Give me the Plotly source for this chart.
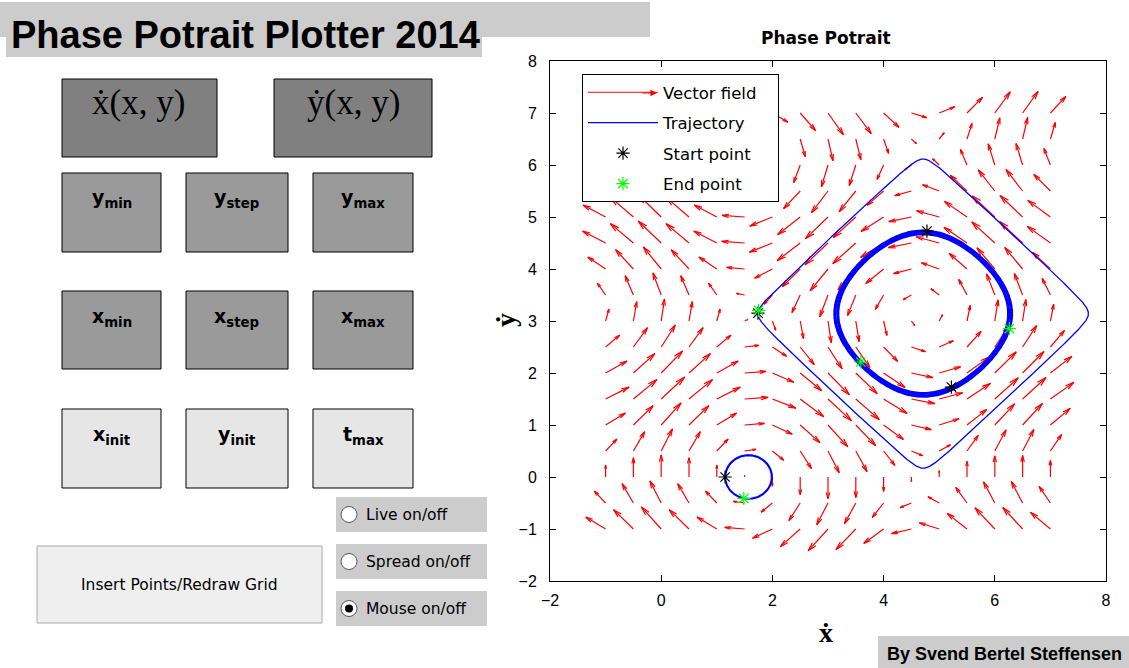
import numpy as np
import plotly.graph_objects as go

# ---------------- phase system entered in the GUI ----------------
XDOT_TEXT = "sin(y)"
YDOT_TEXT = "cos(x)"


def xdot(x, y):
    return np.sin(y)


def ydot(x, y):
    return np.cos(x)


# vector-field grid settings
x_min, x_step, x_max = -1.0, 0.5, 7.0
y_min, y_step, y_max = -1.0, 0.5, 7.0

# initial points and the integration time used for each inserted point
x_init = [1.15, 1.74, 4.78, 5.22]
y_init = [0.00, 3.15, 4.73, 1.73]
t_end = [24.3, 25.0, 23.7, 23.85]
traj_width = [2.0, 1.3, 3.0, 3.0]

# axis ticks
x_ticks = [-2, 0, 2, 4, 6, 8]
y_ticks = [-2, -1, 0, 1, 2, 3, 4, 5, 6, 7, 8]

# ---------------- figure geometry (pixels) ----------------
FIG_W, FIG_H = 1129, 668
PL, PR, PT, PB = 550, 1106, 61, 581


def px(x):
    return (x - PL) / (PR - PL)


def py(y):
    return (PB - y) / (PB - PT)


# ---------------- quiver arrows ----------------
gx = np.arange(x_min, x_max + x_step / 2, x_step)
gy = np.arange(y_min, y_max + y_step / 2, y_step)
GX, GY = np.meshgrid(gx, gy)
U = xdot(GX, GY)
V = ydot(GX, GY)
n_side = np.sqrt(GX.size)
delx = (GX.max() - GX.min()) / n_side
dely = (GY.max() - GY.min()) / n_side
maxlen = np.sqrt((U ** 2 + V ** 2) / (delx ** 2 + dely ** 2)).max()
scale = 0.9 / maxlen
U = U * scale
V = V * scale

alpha, beta = 0.30, 0.25
qx, qy = [], []
for x0, y0, u, v in zip(GX.ravel(), GY.ravel(), U.ravel(), V.ravel()):
    qx += [x0, x0 + u, None]
    qy += [y0, y0 + v, None]
    qx += [x0 + u - alpha * (u + beta * v), x0 + u, x0 + u - alpha * (u - beta * v), None]
    qy += [y0 + v - alpha * (v - beta * u), y0 + v, y0 + v - alpha * (v + beta * u), None]


# ---------------- trajectories (RK4) ----------------
def integrate(x0, y0, t_stop, dt=0.005):
    steps = int(round(t_stop / dt))
    out = np.empty((steps + 1, 2))
    p = np.array([x0, y0], dtype=float)
    out[0] = p

    def f(q):
        return np.array([xdot(q[0], q[1]), ydot(q[0], q[1])])

    for i in range(steps):
        k1 = f(p)
        k2 = f(p + dt / 2 * k1)
        k3 = f(p + dt / 2 * k2)
        k4 = f(p + dt * k3)
        p = p + dt / 6 * (k1 + 2 * k2 + 2 * k3 + k4)
        out[i + 1] = p
    return out


paths = [integrate(a, b, t) for a, b, t in zip(x_init, y_init, t_end)]

fig = go.Figure()

fig.add_trace(go.Scatter(
    x=qx, y=qy, mode="lines", name="Vector field\u00a0\u00a0\u00a0",
    line=dict(color="#ff0000", width=1.2), legendgroup="g1",
    hoverinfo="skip"))

order = [1, 0, 2, 3]
for k, i in enumerate(order):
    pth = paths[i]
    fig.add_trace(go.Scatter(
        x=pth[:, 0], y=pth[:, 1], mode="lines", name="Trajectory",
        line=dict(color="#0000ff", width=traj_width[i]), legendgroup="g2",
        showlegend=(k == 0)))

fig.add_trace(go.Scatter(
    x=x_init, y=y_init, mode="markers", name="Start point",
    marker=dict(symbol="asterisk-open", size=11, color="black",
                line=dict(color="black", width=1.2)),
    legendgroup="g3"))

fig.add_trace(go.Scatter(
    x=[p[-1, 0] for p in paths], y=[p[-1, 1] for p in paths],
    mode="markers", name="End point",
    marker=dict(symbol="asterisk-open", size=11, color="#00ff00",
                line=dict(color="#00ff00", width=1.2)),
    legendgroup="g4"))

# ---------------- GUI panel (shapes) ----------------
shapes = []
annotations = []

SANS = "Liberation Sans, Arial, sans-serif"
WIDE = "DejaVu Sans, Verdana, sans-serif"
SERIF = "Liberation Serif, DejaVu Serif, serif"


def rect(x0, y0, x1, y1, fill, line="black", lw=1):
    shapes.append(dict(type="rect", xref="paper", yref="paper",
                       x0=px(x0), x1=px(x1), y0=py(y1), y1=py(y0),
                       fillcolor=fill, line=dict(color=line, width=lw),
                       layer="below"))


def text(x, y, s, size, family=SANS, color="black", xanchor="center", angle=0):
    annotations.append(dict(x=px(x), y=py(y), xref="paper", yref="paper",
                            text=s, showarrow=False, xanchor=xanchor,
                            yanchor="middle", textangle=angle,
                            font=dict(size=size, family=family, color=color)))


# title banner
rect(0, 2, 650, 37, "#cccccc", line="#cccccc", lw=0)
rect(6, 16, 482, 57, "#cccccc", line="#cccccc", lw=0)
text(9, 35, "<b>Phase Potrait Plotter 2014</b>", 38, xanchor="left")

# equation boxes
rect(62, 79, 217, 157, "#808080")
rect(274, 79, 432, 157, "#808080")
text(138, 102, "\u1e8b(x, y)", 35, family=SERIF)
text(353, 102, "\u1e8f(x, y)", 35, family=SERIF)

# grid boxes
box_cols = [(62, 161), (186, 288), (313, 413)]
rows = [
    (173, 252, "#9a9a9a", ["y<sub>min</sub>", "y<sub>step</sub>", "y<sub>max</sub>"]),
    (291, 369, "#9a9a9a", ["x<sub>min</sub>", "x<sub>step</sub>", "x<sub>max</sub>"]),
    (409, 488, "#e6e6e6", ["x<sub>init</sub>", "y<sub>init</sub>", "t<sub>max</sub>"]),
]
for top, bot, col, labels in rows:
    for (l, r), lab in zip(box_cols, labels):
        rect(l, top, r, bot, col)
        text((l + r) / 2, top + 26, "<b>" + lab + "</b>", 19, family=WIDE)

# insert button
rect(37, 546, 322, 623, "#efefef", line="#aaaaaa")
text(179, 585, "Insert Points/Redraw Grid", 15.5, family=WIDE)

# radio toggles
radio = [(497, 532, "Live on/off", False),
         (544, 579, "Spread on/off", False),
         (591, 626, "Mouse on/off", True)]
for top, bot, lab, on in radio:
    rect(336, top, 487, bot, "#cccccc", line="#cccccc", lw=0)
    cy = (top + bot) / 2
    shapes.append(dict(type="circle", xref="paper", yref="paper",
                       x0=px(341), x1=px(357), y0=py(cy + 8), y1=py(cy - 8),
                       fillcolor="white", line=dict(color="#555555", width=1)))
    if on:
        shapes.append(dict(type="circle", xref="paper", yref="paper",
                           x0=px(345), x1=px(353), y0=py(cy + 4), y1=py(cy - 4),
                           fillcolor="black", line=dict(color="black", width=0)))
    text(364, cy, lab, 15.5, family=WIDE, xanchor="left")

# author tag
rect(878, 636, 1129, 668, "#cccccc", line="#cccccc", lw=0)
text(1004, 654, "<b>By Svend Bertel Steffensen</b>", 18)

# axes labels and title
text(826, 38, "<b>Phase Potrait</b>", 17, family=WIDE)
text(826, 632, "<b>\u1e8b</b>", 28, family=SERIF)
text(505, 320, "<b>\u1e8f</b>", 28, family=SERIF, angle=-90)

# arrow tip on the legend's vector-field sample
annotations.append(dict(x=px(657), y=py(93), xref="paper", yref="paper",
                        ax=-16, ay=0, showarrow=True, arrowhead=2,
                        arrowsize=1.1, arrowwidth=1.2, arrowcolor="#ff0000",
                        text=""))

tick_font = dict(family=SANS, size=16, color="black")

axis_common = dict(showline=True, linecolor="black", linewidth=1, mirror="ticks",
                   ticks="inside", ticklen=6, tickcolor="black", tickwidth=1,
                   showgrid=False, zeroline=False, tickfont=tick_font)

fig.update_layout(
    width=FIG_W, height=FIG_H,
    margin=dict(l=PL, r=FIG_W - PR, t=PT, b=FIG_H - PB, pad=0),
    paper_bgcolor="white", plot_bgcolor="white",
    xaxis=dict(range=[-2, 8], tickvals=x_ticks, ticklabelstandoff=5, **axis_common),
    yaxis=dict(range=[-2, 8], tickvals=y_ticks, ticklabelstandoff=9, **axis_common),
    shapes=shapes, annotations=annotations,
    legend=dict(x=px(582), y=py(74), xanchor="left", yanchor="top",
                bgcolor="white", bordercolor="black", borderwidth=1,
                font=dict(family=WIDE, size=16.5, color="black"),
                itemwidth=70, tracegroupgap=6),
    showlegend=True,
)

fig.write_html("out.html")
